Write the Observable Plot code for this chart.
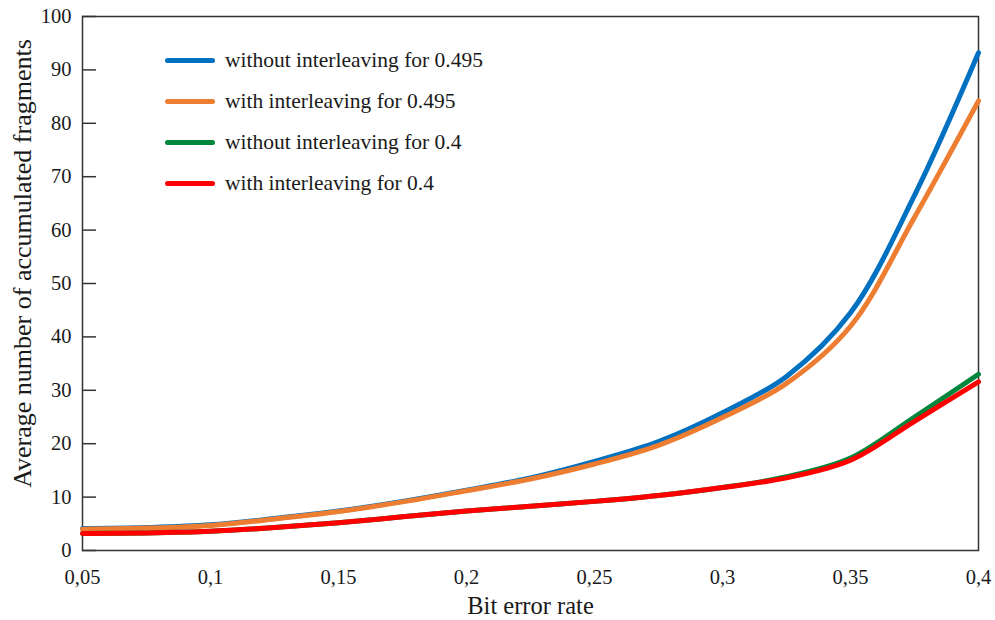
<!DOCTYPE html>
<html>
<head>
<meta charset="utf-8">
<script src="https://cdn.jsdelivr.net/npm/d3@7"></script>
<script src="https://cdn.jsdelivr.net/npm/@observablehq/plot@0.6"></script>
<style>
  html, body { margin: 0; padding: 0; background: #fff; }
  #wrap { position: relative; width: 995px; height: 620px; }
  #legend { position: absolute; left: 165px; top: 40px; font-family: "Liberation Serif", "DejaVu Serif", serif; font-size: 21.5px; color: #1a1a1a; }
  #legend .row { display: flex; align-items: center; height: 41px; }
  #legend .sw { width: 50px; height: 5px; border-radius: 3px; margin-right: 10px; }
</style>
</head>
<body>
<div id="wrap"><div id="legend"></div></div>
<script>
const ber = [0.05, 0.075, 0.1, 0.125, 0.15, 0.175, 0.2, 0.225, 0.25, 0.275, 0.3, 0.325, 0.35, 0.375, 0.4];
const withoutInterleaving0495 = [4.1, 4.3, 4.8, 6.0, 7.4, 9.2, 11.3, 13.6, 16.7, 20.4, 25.8, 32.6, 44.5, 66.5, 93.2];
const withInterleaving0495    = [4.0, 4.2, 4.7, 5.9, 7.3, 9.1, 11.2, 13.4, 16.2, 19.7, 24.9, 31.3, 42.0, 62.4, 84.2];
const withoutInterleaving04   = [3.2, 3.3, 3.6, 4.3, 5.2, 6.3, 7.4, 8.3, 9.2, 10.3, 11.8, 13.8, 17.3, 25.0, 33.0];
const withInterleaving04      = [3.2, 3.3, 3.6, 4.3, 5.2, 6.3, 7.4, 8.3, 9.2, 10.3, 11.8, 13.6, 16.9, 24.2, 31.6];
const seriesNames = ["without interleaving for 0.495", "with interleaving for 0.495", "without interleaving for 0.4", "with interleaving for 0.4"];
const seriesColors = ["#0070C0", "#ED7D31", "#00873C", "#FF0000"];
const xTicks = [0.05, 0.1, 0.15, 0.2, 0.25, 0.3, 0.35, 0.4];
const yTicks = [0, 10, 20, 30, 40, 50, 60, 70, 80, 90, 100];

const seriesValues = [withoutInterleaving0495, withInterleaving0495, withoutInterleaving04, withInterleaving04];
const data = seriesValues.flatMap((vals, i) => vals.map((v, j) => ({x: ber[j], y: v, s: seriesNames[i]})));

const font = `"Liberation Serif", "DejaVu Serif", serif`;
const chart = Plot.plot({
  width: 995,
  height: 620,
  marginLeft: 82,
  marginRight: 17,
  marginTop: 16,
  marginBottom: 70,
  style: {fontFamily: font, fontSize: "20.5px", color: "#1a1a1a", background: "#fff"},
  x: {domain: [0.05, 0.4]},
  y: {domain: [0, 100]},
  color: {domain: seriesNames, range: seriesColors},
  marks: [
    Plot.frame({stroke: "#333", strokeWidth: 1.5}),
    Plot.axisX({ticks: xTicks, tickSize: 0, tickPadding: 19, tickFormat: d => String(d).replace(".", ","), fontSize: 20.5,
      label: "Bit error rate", labelAnchor: "center", labelArrow: "none", labelOffset: 63}),
    Plot.axisY({ticks: yTicks, tickSize: 14, dx: 14, tickFormat: null, text: null, label: null, stroke: "#333", strokeWidth: 1.5}),
    Plot.axisY({ticks: yTicks, tickSize: 0, tickPadding: 11, fontSize: 20.5,
      label: "Average number of accumulated fragments", labelAnchor: "center", labelArrow: "none", labelOffset: 72}),
    Plot.line(data, {x: "x", y: "y", z: "s", stroke: "s", strokeWidth: 5, curve: "catmull-rom", strokeLinecap: "round"})
  ]
});
chart.querySelectorAll("[aria-label='x-axis label'] text").forEach(t => t.style.fontSize = "24.5px");
chart.querySelectorAll("[aria-label='y-axis label']").forEach(g => {
  const prev = g.getAttribute("transform") || "";
  g.setAttribute("transform", `translate(2,-20) ${prev}`);
  g.querySelectorAll("text").forEach(t => t.style.fontSize = "26px");
});
document.getElementById("wrap").prepend(chart);

const legend = document.getElementById("legend");
seriesNames.forEach((n, i) => {
  const row = document.createElement("div");
  row.className = "row";
  row.innerHTML = `<div class="sw" style="background:${seriesColors[i]}"></div><span>${n}</span>`;
  legend.appendChild(row);
});
</script>
</body>
</html>
